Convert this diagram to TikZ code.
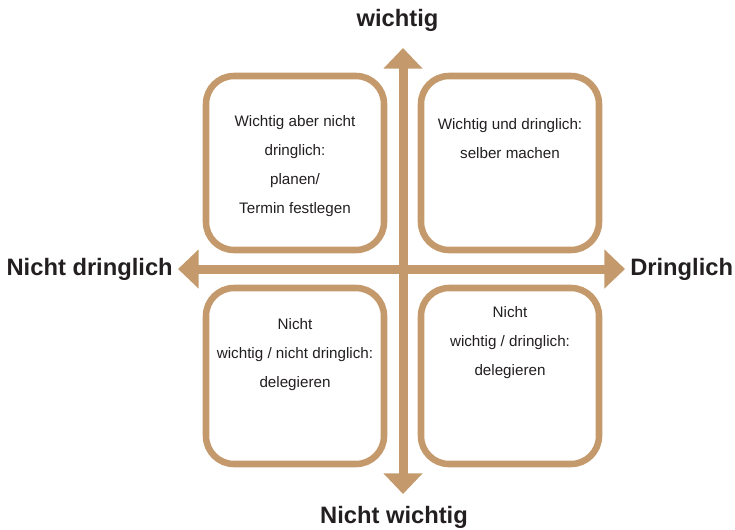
\documentclass[tikz,border=0pt]{standalone}
\usepackage{fontspec}
\setmainfont{Liberation Sans}
\usetikzlibrary{arrows.meta}
\definecolor{brownish}{HTML}{C49A6C}
\definecolor{txt}{HTML}{231F20}
\tikzset{
  quad/.style={draw=brownish, line width=4.9pt, rounded corners=21pt, fill=white},
  axis/.style={draw=brownish, line width=6.75pt, -{Triangle[length=15.5pt,width=28.5pt]}},
  axlabel/.style={font=\fontsize{17.8}{20}\selectfont\bfseries, text=txt, inner sep=0pt},
  qtext/.style={font=\fontsize{11.4}{21.75}\selectfont, text=txt, align=center, inner sep=0pt}
}
\begin{document}
\begin{tikzpicture}[x=0.75pt,y=-0.75pt]
\useasboundingbox (0,0) rectangle (735,529);
% quadrant boxes
\draw[quad] (206,76) rectangle (384,250);
\draw[quad] (421,76) rectangle (599,250);
\draw[quad] (206,288) rectangle (384,464);
\draw[quad] (421,288) rectangle (599,464);
% axes
\coordinate (top) at (403,48);
\coordinate (bot) at (403,494);
\coordinate (lft) at (178,269);
\coordinate (rgt) at (625,269);
\coordinate (ctr) at (403,269);
\draw[axis] (ctr) -- (top);
\draw[axis] (ctr) -- (bot);
\draw[axis] (ctr) -- (lft);
\draw[axis] (ctr) -- (rgt);
% axis labels
\node[axlabel] (lw) at (397.5,20) {wichtig};
\node[axlabel] (lnw) at (394,517) {Nicht wichtig};
\node[axlabel, anchor=east] (lnd) at (173,269) {Nicht dringlich};
\node[axlabel, anchor=west] (ld) at (630,269) {Dringlich};
% quadrant texts
\node[qtext] (tl) at (295,166) {Wichtig aber nicht\\dringlich:\\planen/\\Termin festlegen};
\node[qtext] (tr) at (510,138.5) {Wichtig und dringlich:\\selber machen};
\node[qtext] (bl) at (295,355) {Nicht\\wichtig / nicht dringlich:\\delegieren};
\node[qtext] (br) at (510,343) {Nicht\\wichtig / dringlich:\\delegieren};
\end{tikzpicture}
\end{document}
